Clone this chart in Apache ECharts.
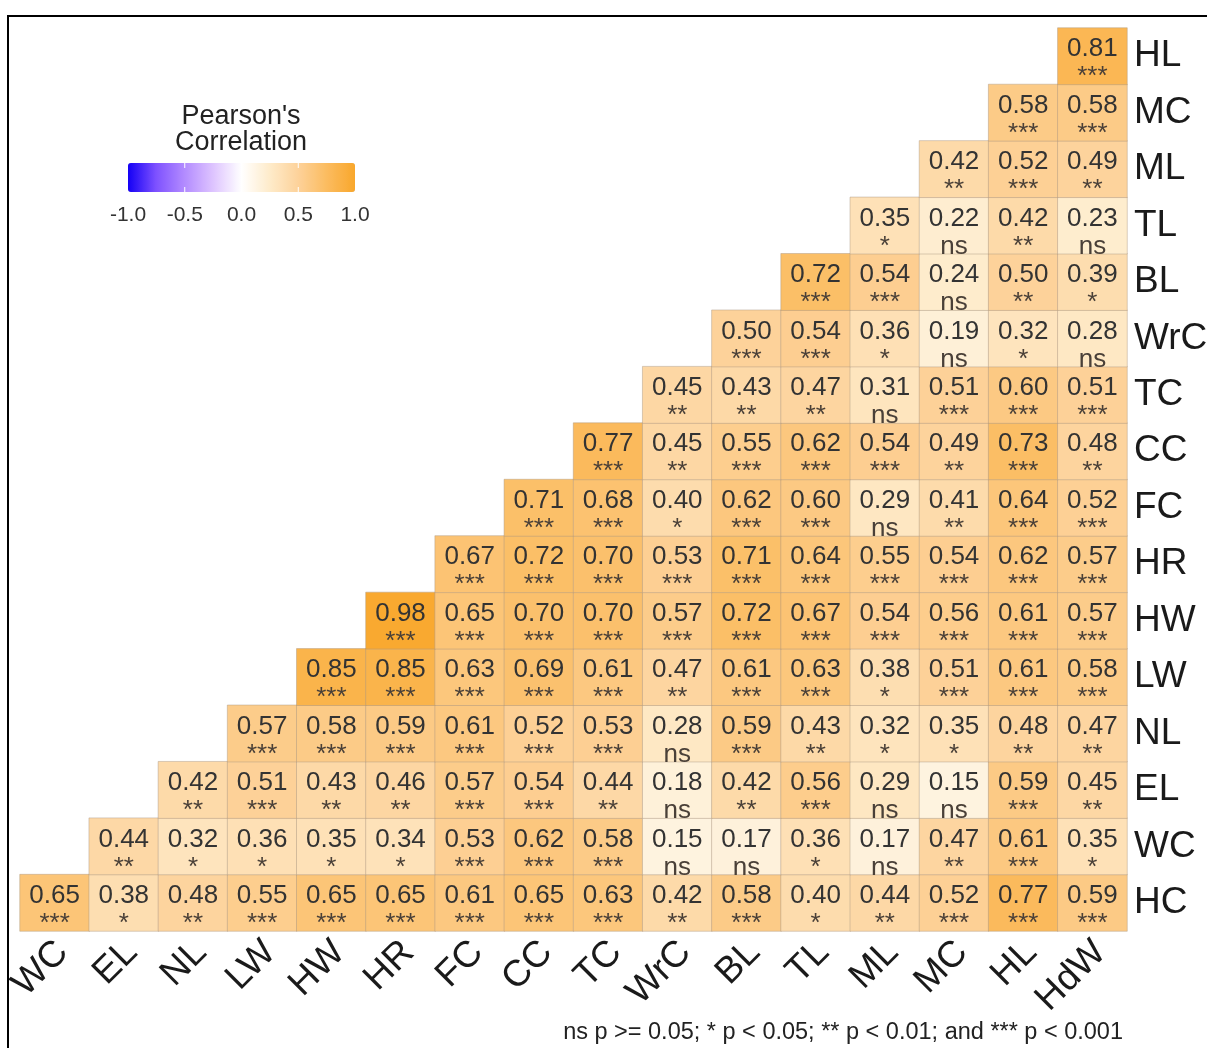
<!DOCTYPE html>
<html>
<head>
<meta charset="utf-8">
<script src="https://cdn.jsdelivr.net/npm/echarts@6/dist/echarts.min.js"></script>
<style>
  html, body { margin: 0; padding: 0; background: #fff; }
  #corr { width: 1207px; height: 1048px; }
</style>
</head>
<body>
<div id="corr"></div>
<script>
var xCats = ['WC', 'EL', 'NL', 'LW', 'HW', 'HR', 'FC', 'CC', 'TC', 'WrC', 'BL', 'TL', 'ML', 'MC', 'HL', 'HdW'];
var yCats = ['HC', 'WC', 'EL', 'NL', 'LW', 'HW', 'HR', 'FC', 'CC', 'TC', 'WrC', 'BL', 'TL', 'ML', 'MC', 'HL'];

// each row starts at the column right after its own name, ends at HdW
var rHC  = [0.65, 0.38, 0.48, 0.55, 0.65, 0.65, 0.61, 0.65, 0.63, 0.42, 0.58, 0.40, 0.44, 0.52, 0.77, 0.59];
var sHC  = ['***', '*', '**', '***', '***', '***', '***', '***', '***', '**', '***', '*', '**', '***', '***', '***'];
var rWC  = [0.44, 0.32, 0.36, 0.35, 0.34, 0.53, 0.62, 0.58, 0.15, 0.17, 0.36, 0.17, 0.47, 0.61, 0.35];
var sWC  = ['**', '*', '*', '*', '*', '***', '***', '***', 'ns', 'ns', '*', 'ns', '**', '***', '*'];
var rEL  = [0.42, 0.51, 0.43, 0.46, 0.57, 0.54, 0.44, 0.18, 0.42, 0.56, 0.29, 0.15, 0.59, 0.45];
var sEL  = ['**', '***', '**', '**', '***', '***', '**', 'ns', '**', '***', 'ns', 'ns', '***', '**'];
var rNL  = [0.57, 0.58, 0.59, 0.61, 0.52, 0.53, 0.28, 0.59, 0.43, 0.32, 0.35, 0.48, 0.47];
var sNL  = ['***', '***', '***', '***', '***', '***', 'ns', '***', '**', '*', '*', '**', '**'];
var rLW  = [0.85, 0.85, 0.63, 0.69, 0.61, 0.47, 0.61, 0.63, 0.38, 0.51, 0.61, 0.58];
var sLW  = ['***', '***', '***', '***', '***', '**', '***', '***', '*', '***', '***', '***'];
var rHW  = [0.98, 0.65, 0.70, 0.70, 0.57, 0.72, 0.67, 0.54, 0.56, 0.61, 0.57];
var sHW  = ['***', '***', '***', '***', '***', '***', '***', '***', '***', '***', '***'];
var rHR  = [0.67, 0.72, 0.70, 0.53, 0.71, 0.64, 0.55, 0.54, 0.62, 0.57];
var sHR  = ['***', '***', '***', '***', '***', '***', '***', '***', '***', '***'];
var rFC  = [0.71, 0.68, 0.40, 0.62, 0.60, 0.29, 0.41, 0.64, 0.52];
var sFC  = ['***', '***', '*', '***', '***', 'ns', '**', '***', '***'];
var rCC  = [0.77, 0.45, 0.55, 0.62, 0.54, 0.49, 0.73, 0.48];
var sCC  = ['***', '**', '***', '***', '***', '**', '***', '**'];
var rTC  = [0.45, 0.43, 0.47, 0.31, 0.51, 0.60, 0.51];
var sTC  = ['**', '**', '**', 'ns', '***', '***', '***'];
var rWrC = [0.50, 0.54, 0.36, 0.19, 0.32, 0.28];
var sWrC = ['***', '***', '*', 'ns', '*', 'ns'];
var rBL  = [0.72, 0.54, 0.24, 0.50, 0.39];
var sBL  = ['***', '***', 'ns', '**', '*'];
var rTL  = [0.35, 0.22, 0.42, 0.23];
var sTL  = ['*', 'ns', '**', 'ns'];
var rML  = [0.42, 0.52, 0.49];
var sML  = ['**', '***', '**'];
var rMC  = [0.58, 0.58];
var sMC  = ['***', '***'];
var rHL  = [0.81];
var sHL  = ['***'];

var legendTicks = [-1.0, -0.5, 0.0, 0.5, 1.0];
var footNote = 'ns p >= 0.05; * p < 0.05; ** p < 0.01; and *** p < 0.001';

var rows = [rHC, rWC, rEL, rNL, rLW, rHW, rHR, rFC, rCC, rTC, rWrC, rBL, rTL, rML, rMC, rHL];
var sigs = [sHC, sWC, sEL, sNL, sLW, sHW, sHR, sFC, sCC, sTC, sWrC, sBL, sTL, sML, sMC, sHL];

var data = [];
rows.forEach(function (row, k) {
  row.forEach(function (v, j) {
    data.push({ value: [k + j, k, v], sig: sigs[k][j] });
  });
});

var FONT = 'Liberation Sans';
var dom = document.getElementById('corr');
var myChart = echarts.init(dom);

// colour bar geometry (legend only)
var barX = 128, barY = 163, barW = 227, barH = 29;

var graphics = [
  { type: 'rect', silent: true, z: 100,
    shape: { x: 8, y: 16, width: 1400, height: 1200 },
    style: { fill: 'none', stroke: '#000', lineWidth: 2 } },
  { type: 'text', x: 241, y: 130,
    style: { text: "Pearson's\nCorrelation", font: '27px ' + FONT, fill: '#222',
             align: 'center', verticalAlign: 'middle', lineHeight: 26 } },
  { type: 'text', x: 1123, y: 1033,
    style: { text: footNote, font: '23.5px ' + FONT, fill: '#222',
             align: 'right', verticalAlign: 'middle' } }
];
legendTicks.forEach(function (t) {
  var px = barX + (t + 1) / 2 * barW;
  graphics.push({ type: 'text', x: px, y: 215,
    style: { text: t.toFixed(1), font: '21px ' + FONT, fill: '#333',
             align: 'center', verticalAlign: 'middle' } });
  if (t > -1 && t < 1) {
    graphics.push({ type: 'line', z: 50, silent: true,
      shape: { x1: px, y1: barY, x2: px, y2: barY + 5 },
      style: { stroke: '#fff', lineWidth: 1 } });
    graphics.push({ type: 'line', z: 50, silent: true,
      shape: { x1: px, y1: barY + barH - 5, x2: px, y2: barY + barH },
      style: { stroke: '#fff', lineWidth: 1 } });
  }
});

var option = {
  backgroundColor: '#ffffff',
  animation: false,
  grid: { left: 20, right: 80, top: 28, bottom: 117,
          containLabel: false, outerBoundsMode: 'none' },
  xAxis: {
    type: 'category',
    data: xCats,
    axisLine: { show: false },
    axisTick: { show: false },
    splitLine: { show: false },
    axisLabel: {
      rotate: 45, interval: 0, margin: 8,
      formatter: function (v) { return '{t|' + v + '}'; },
      rich: {
        t: { fontSize: 37, color: '#1a1a1a', fontFamily: FONT, padding: [22, 0, 0, 0] }
      }
    }
  },
  yAxis: {
    type: 'category',
    data: yCats,
    position: 'right',
    axisLine: { show: false },
    axisTick: { show: false },
    splitLine: { show: false },
    axisLabel: { interval: 0, fontSize: 37, color: '#1a1a1a',
                 fontFamily: FONT, margin: 7 }
  },
  visualMap: {
    type: 'continuous',
    min: -1,
    max: 1,
    dimension: 2,
    seriesIndex: 0,
    orient: 'horizontal',
    left: barX,
    top: barY,
    padding: 0,
    itemWidth: barH,
    itemHeight: barW,
    text: ['', ''],
    calculable: false,
    inRange: {
      color: ['#1400F5', '#7F52FF', '#B38CFF', '#DEC4FF', '#FFFFFF',
              '#FEEBCA', '#FDD29A', '#FBBC60', '#F9A72C']
    }
  },
  series: [{
    type: 'heatmap',
    data: data,
    itemStyle: { borderColor: 'rgba(170,150,130,0.45)', borderWidth: 1 },
    emphasis: { disabled: true },
    label: {
      show: true,
      offset: [0, 7],
      formatter: function (p) {
        return '{v|' + p.value[2].toFixed(2) + '}\n{s|' + p.data.sig + '}';
      },
      rich: {
        v: { fontSize: 26, lineHeight: 28, color: '#333', fontFamily: FONT },
        s: { fontSize: 26, lineHeight: 28, color: '#4a4038', fontFamily: FONT }
      }
    }
  }],
  graphic: graphics
};

if (option && typeof option === 'object') {
  myChart.setOption(option);
}

window.onresize = function () {
  myChart.resize();
};
</script>
</body>
</html>
